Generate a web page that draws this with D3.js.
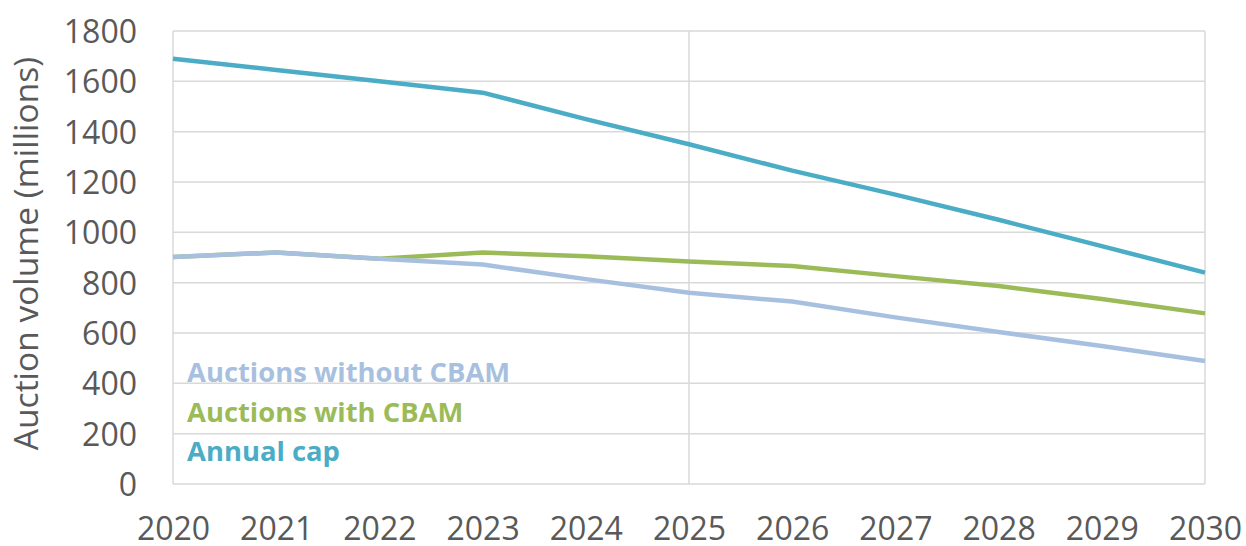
<!DOCTYPE html>
<html>
<head>
<meta charset="utf-8">
<script src="https://cdn.jsdelivr.net/npm/d3@7"></script>
<style>
  html, body { margin: 0; padding: 0; background: #fff; }
  svg { display: block; }
</style>
</head>
<body>
<svg id="chart" width="1246" height="546"></svg>
<script>
// Auction volumes (millions of allowances), 2020–2030
const years = [2020, 2021, 2022, 2023, 2024, 2025, 2026, 2027, 2028, 2029, 2030];
const annualCap = [1690, 1645, 1600, 1555, 1450, 1350, 1245, 1150, 1050, 945, 840];
const auctionsWithCBAM = [902, 920, 895, 920, 905, 884, 866, 826, 787, 735, 678];
const auctionsWithoutCBAM = [902, 920, 895, 872, 814, 760, 725, 662, 604, 548, 489];
const yTicks = [0, 200, 400, 600, 800, 1000, 1200, 1400, 1600, 1800];
const seriesNames = ["Auctions without CBAM", "Auctions with CBAM", "Annual cap"];
const seriesColors = ["#a8c0e0", "#9bbb59", "#4bacc6"];

const svg = d3.select("#chart");
const plot = { left: 173, right: 1205, top: 31, bottom: 484 };

const x = d3.scaleLinear().domain([2020, 2030]).range([plot.left, plot.right]);
const y = d3.scaleLinear().domain([0, 1800]).range([plot.bottom, plot.top]);

const font = "'Open Sans', 'Liberation Sans', sans-serif";
const gridColor = "#d9d9d9";
const textColor = "#595959";

// Horizontal gridlines
svg.append("g")
  .selectAll("line")
  .data(yTicks)
  .join("line")
  .attr("x1", plot.left).attr("x2", plot.right)
  .attr("y1", d => y(d)).attr("y2", d => y(d))
  .attr("stroke", gridColor).attr("stroke-width", 1.5);

// Vertical frame lines and the 2025 marker line
svg.append("g")
  .selectAll("line")
  .data([2020, 2025, 2030])
  .join("line")
  .attr("x1", d => x(d)).attr("x2", d => x(d))
  .attr("y1", plot.top).attr("y2", plot.bottom)
  .attr("stroke", gridColor).attr("stroke-width", 1.5);

// Y axis tick labels
const yAxis = d3.axisLeft(y).tickValues(yTicks).tickFormat(d3.format("d")).tickSize(0).tickPadding(0);
const gy = svg.append("g").attr("transform", `translate(${plot.left - 36},0)`).call(yAxis);
gy.select(".domain").remove();
gy.selectAll("text")
  .attr("font-family", font).attr("font-size", 32).attr("fill", textColor)
  .attr("dy", "0.36em");

// X axis tick labels
const xAxis = d3.axisBottom(x).tickValues(years).tickFormat(d3.format("d")).tickSize(0).tickPadding(0);
const gx = svg.append("g").attr("transform", `translate(0,${plot.bottom + 33})`).call(xAxis);
gx.select(".domain").remove();
gx.selectAll("text")
  .attr("font-family", font).attr("font-size", 32).attr("fill", textColor)
  .attr("dy", "0.71em");

// Y axis title
svg.append("text")
  .attr("transform", `translate(38,${(plot.top + plot.bottom) / 2 - 4}) rotate(-90)`)
  .attr("text-anchor", "middle")
  .attr("font-family", font).attr("font-size", 33.5).attr("fill", textColor)
  .text("Auction volume (millions)");

// Series lines
const line = d3.line()
  .x((d, i) => x(years[i]))
  .y(d => y(d));

const drawOrder = [
  { values: annualCap, color: seriesColors[2] },
  { values: auctionsWithCBAM, color: seriesColors[1] },
  { values: auctionsWithoutCBAM, color: seriesColors[0] }
];
svg.append("g")
  .selectAll("path")
  .data(drawOrder)
  .join("path")
  .attr("d", d => line(d.values))
  .attr("fill", "none")
  .attr("stroke", d => d.color)
  .attr("stroke-width", 4.5)
  .attr("stroke-linejoin", "round");

// Legend labels
svg.append("g")
  .selectAll("text")
  .data(seriesNames)
  .join("text")
  .attr("x", 187)
  .attr("y", (d, i) => 382 + i * 39.5)
  .attr("font-family", font).attr("font-size", 27.4).attr("font-weight", "bold")
  .attr("fill", (d, i) => seriesColors[i])
  .text(d => d);
</script>
</body>
</html>
